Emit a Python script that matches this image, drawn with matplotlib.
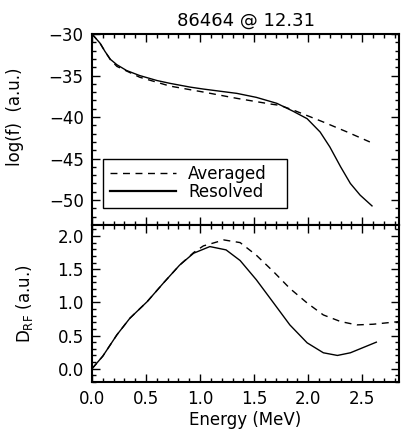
import matplotlib
matplotlib.use("Agg")
import matplotlib.pyplot as plt
from matplotlib.ticker import MultipleLocator

# log(f) curves
res_e = [0.0, 0.074, 0.12, 0.17, 0.23, 0.32, 0.44, 0.60, 0.72, 0.91, 1.03, 1.22, 1.34, 1.52,
         1.71, 1.86, 1.99, 2.11, 2.20, 2.30, 2.39, 2.48, 2.59]
res_f = [-30.0, -31.1, -32.1, -33.05, -33.7, -34.4, -35.0, -35.6, -35.94, -36.4, -36.63, -36.95,
         -37.15, -37.63, -38.35, -39.3, -40.2, -41.8, -43.6, -46.0, -48.0, -49.4, -50.7]
avg_e = [0.0, 0.074, 0.12, 0.17, 0.23, 0.44, 0.72, 1.03, 1.34, 1.65, 1.74, 1.86, 2.14, 2.36, 2.57]
avg_f = [-30.0, -31.1, -32.1, -33.1, -33.9, -35.2, -36.27, -36.99, -37.75, -38.43, -38.6, -39.15,
         -40.6, -41.8, -43.0]

# D_RF curves
dres_e = [0.0, 0.10, 0.23, 0.35, 0.51, 0.66, 0.81, 0.94, 1.09, 1.24, 1.37, 1.52, 1.68, 1.83,
          1.99, 2.14, 2.27, 2.39, 2.51, 2.63]
dres_v = [0.0, 0.19, 0.51, 0.76, 1.01, 1.29, 1.56, 1.74, 1.84, 1.79, 1.63, 1.34, 0.99, 0.66,
          0.39, 0.24, 0.20, 0.24, 0.32, 0.40]
davg_e = [0.0, 0.10, 0.23, 0.35, 0.51, 0.66, 0.81, 0.94, 1.03, 1.22, 1.37, 1.52, 1.68, 1.83,
          1.99, 2.14, 2.30, 2.45, 2.60, 2.84]
davg_v = [0.0, 0.19, 0.51, 0.76, 1.01, 1.29, 1.56, 1.75, 1.85, 1.94, 1.90, 1.71, 1.46, 1.21,
          0.99, 0.81, 0.71, 0.66, 0.67, 0.71]

plt.rcParams['font.family'] = ['DejaVu Sans']
plt.rcParams['font.size'] = 12

fig = plt.figure(figsize=(4.02, 4.41), dpi=100)
ax1 = fig.add_axes([0.2289, 0.4898, 0.7637, 0.4331])
ax2 = fig.add_axes([0.2289, 0.1338, 0.7637, 0.3560])

ax1.plot(avg_e, avg_f, 'k--', lw=1, dashes=(5, 4), label='Averaged')
ax1.plot(res_e, res_f, 'k-', lw=1, label='Resolved')
ax1.set_xlim(0, 2.84)
ax1.set_ylim(-53, -30)
ax1.set_ylabel('log(f)  (a.u.)')
ax1.yaxis.set_label_coords(-0.22, 0.565)
ax1.set_title('86464 @ 12.31', fontsize=13, pad=6)
ax1.yaxis.set_major_locator(MultipleLocator(5))
ax1.yaxis.set_minor_locator(MultipleLocator(1))
ax1.tick_params(labelbottom=False)
leg = ax1.legend(loc='lower left', bbox_to_anchor=(0.036, 0.089, 0.6, 0.24), mode='expand',
                 fancybox=False, edgecolor='k', framealpha=1, handlelength=4.0,
                 handletextpad=0.7, borderpad=0.4, labelspacing=0.0, borderaxespad=0,
                 fontsize=12)
leg.get_frame().set_linewidth(1)
leg.legend_handles[1].set_linewidth(1.6)

ax2.plot(davg_e, davg_v, 'k--', lw=1, dashes=(5, 4))
ax2.plot(dres_e, dres_v, 'k-', lw=1)
ax2.set_xlim(0, 2.84)
ax2.set_ylim(-0.2, 2.165)
ax2.set_ylabel(r'D$_{\rm RF}$ (a.u.)')
ax2.yaxis.set_label_coords(-0.185, 0.5)
ax2.set_xlabel('Energy (MeV)', labelpad=2)
ax2.yaxis.set_major_locator(MultipleLocator(0.5))
ax2.yaxis.set_minor_locator(MultipleLocator(0.1))

for ax in (ax1, ax2):
    ax.xaxis.set_major_locator(MultipleLocator(0.5))
    ax.xaxis.set_minor_locator(MultipleLocator(0.1))
    ax.tick_params(which='both', direction='in', top=True, right=True, width=1)
    ax.tick_params(which='major', length=6, pad=6)
    ax.tick_params(which='minor', length=3)
    for s in ax.spines.values():
        s.set_linewidth(1.5)

fig.savefig('out.png', dpi=100)
